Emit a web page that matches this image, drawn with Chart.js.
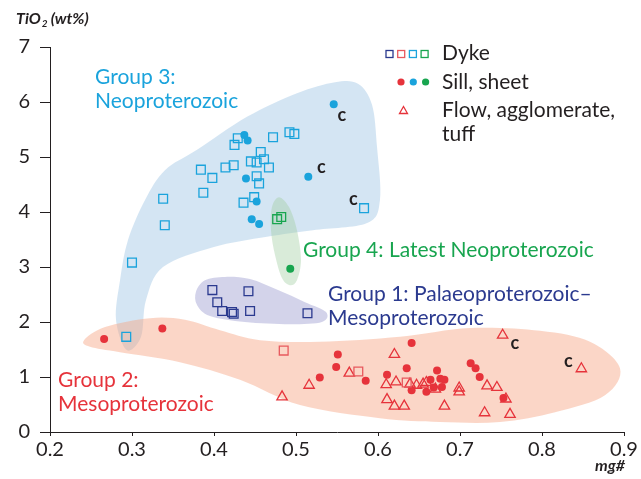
<!DOCTYPE html>
<html>
<head>
<meta charset="utf-8">
<script src="https://cdn.jsdelivr.net/npm/chart.js@4/dist/chart.umd.min.js"></script>
<style>
  html, body { margin: 0; padding: 0; background: #fff; }
</style>
</head>
<body>
<canvas id="tio2Chart" width="641" height="479"></canvas>
<script>
// mg# vs TiO2 (wt%), pairs are [mg#, TiO2]
const group1Dyke = [[0.398, 2.58], [0.442, 2.56], [0.404, 2.36], [0.410, 2.20], [0.422, 2.18], [0.424, 2.15], [0.444, 2.20], [0.514, 2.16]];

const group2Dyke = [[0.485, 1.48], [0.576, 1.10], [0.635, 0.90]];
const group2Sill = [[0.266, 1.69], [0.337, 1.88], [0.551, 1.41], [0.549, 1.18], [0.529, 0.99], [0.585, 0.93],
  [0.641, 1.62], [0.611, 1.04], [0.635, 1.16], [0.672, 1.12], [0.713, 1.25], [0.719, 1.16], [0.724, 1.00],
  [0.641, 0.76], [0.659, 0.73], [0.664, 0.95], [0.676, 0.97], [0.681, 0.95], [0.678, 0.82], [0.668, 0.81], [0.753, 0.62]];
const group2Flow = [[0.565, 1.07], [0.516, 0.85], [0.483, 0.64], [0.752, 1.76], [0.848, 1.15], [0.620, 1.41],
  [0.610, 0.86], [0.622, 0.91], [0.639, 0.87], [0.647, 0.85], [0.655, 0.87], [0.670, 0.78], [0.659, 0.90],
  [0.699, 0.80], [0.699, 0.73], [0.733, 0.84], [0.745, 0.81], [0.756, 0.60], [0.611, 0.59], [0.620, 0.47],
  [0.632, 0.47], [0.681, 0.47], [0.730, 0.35], [0.761, 0.32]];

const group3Dyke = [[0.429, 5.34], [0.425, 5.22], [0.472, 5.36], [0.492, 5.45], [0.498, 5.42], [0.457, 5.09],
  [0.445, 4.92], [0.452, 4.90], [0.461, 4.96], [0.467, 4.81], [0.424, 4.85], [0.414, 4.81], [0.384, 4.77],
  [0.398, 4.62], [0.452, 4.65], [0.455, 4.52], [0.387, 4.35], [0.338, 4.24], [0.449, 4.27], [0.436, 4.17],
  [0.340, 3.76], [0.583, 4.07], [0.300, 3.08], [0.293, 1.73]];
const group3Sill = [[0.546, 5.96], [0.437, 5.40], [0.441, 5.30], [0.439, 4.61], [0.515, 4.64], [0.452, 4.19], [0.446, 3.87], [0.455, 3.78]];

const group4Dyke = [[0.477, 3.87], [0.482, 3.91]];
const group4Sill = [[0.493, 2.97]];

// samples flagged "c"
const cLabels = [[0.556, 5.76], [0.531, 4.82], [0.570, 4.24], [0.767, 1.62], [0.832, 1.29]];

// outlines of the shaded group fields
const field3 = [[0.2935, 1.49], [0.2805, 2.04], [0.2854, 2.76], [0.2951, 3.49], [0.3159, 4.22], [0.3402, 4.76],
  [0.3793, 5.13], [0.4402, 5.73], [0.5012, 6.16], [0.5476, 6.36], [0.5756, 6.33], [0.5927, 5.95], [0.5988, 5.18],
  [0.6024, 4.22], [0.5866, 3.80], [0.5207, 3.67], [0.4646, 3.55], [0.3988, 3.36], [0.3378, 3.00], [0.3171, 2.40], [0.3110, 1.73]];
const field4 = [[0.4793, 4.27], [0.4915, 4.09], [0.5012, 3.67], [0.5061, 3.13], [0.5012, 2.76], [0.4927, 2.67],
  [0.4829, 2.80], [0.4744, 3.22], [0.4695, 3.67], [0.4707, 4.09]];
const field1 = [[0.3780, 2.55], [0.3890, 2.76], [0.4134, 2.82], [0.4439, 2.78], [0.4780, 2.58], [0.5110, 2.36],
  [0.5366, 2.18], [0.5317, 2.00], [0.4927, 1.96], [0.4378, 2.00], [0.3951, 2.11], [0.3793, 2.31]];
const field2 = [[0.2415, 1.67], [0.2671, 1.91], [0.3220, 2.07], [0.3646, 2.04], [0.4073, 1.85], [0.4561, 1.67],
  [0.5293, 1.64], [0.6268, 1.73], [0.7122, 1.89], [0.7976, 1.84], [0.8585, 1.64], [0.8951, 1.16], [0.8768, 0.67],
  [0.8159, 0.36], [0.7488, 0.18], [0.6756, 0.18], [0.6024, 0.25], [0.5049, 0.49], [0.4317, 0.95], [0.3585, 1.27],
  [0.2854, 1.45], [0.2488, 1.55]];

const xTicks = [0.2, 0.3, 0.4, 0.5, 0.6, 0.7, 0.8, 0.9];
const yTicks = [0, 1, 2, 3, 4, 5, 6, 7];

const BLUE = '#2b3a8f', RED = '#e6333b', RED_LIGHT = '#e8595e', CYAN = '#1aa3dc', GREEN = '#18a54f', INK = '#231f20';
const FONT = "Lato, 'Open Sans', sans-serif";

const toPts = arr => arr.map(p => ({ x: p[0], y: p[1] }));

function pointSet(label, arr, style, color, filled) {
    return {
        label: label,
        data: toPts(arr),
        pointStyle: style,
        pointRadius: style === 'circle' ? 4 : (style === 'rect' ? 6.2 : 6),
        pointBorderWidth: filled ? 0 : 1.3,
        pointBorderColor: color,
        pointBackgroundColor: filled ? color : 'rgba(255,255,255,0)',
        showLine: false
    };
}

const fields = [
    { pts: field3, fill: 'rgba(160, 198, 228, 0.45)' },
    { pts: field2, fill: 'rgba(247, 165, 130, 0.45)' },
    { pts: field1, fill: 'rgba(140, 140, 200, 0.38)' },
    { pts: field4, fill: 'rgba(160, 205, 160, 0.40)' }
];

const groupTexts = [
    { lines: ['Group 3:', 'Neoproterozoic'], at: [0.2549, 6.45], color: CYAN },
    { lines: ['Group 4: Latest Neoproterozoic'], at: [0.5085, 3.31], color: GREEN },
    { lines: ['Group 1: Palaeoproterozoic\u2013', 'Mesoproterozoic'], at: [0.5390, 2.51], color: BLUE },
    { lines: ['Group 2:', 'Mesoproterozoic'], at: [0.2098, 0.945], color: RED }
];

// smooth closed outlines behind the points
const fieldsPlugin = {
    id: 'fields',
    beforeDatasetsDraw(chart) {
        const { ctx, scales: { x, y } } = chart;
        ctx.save();
        fields.forEach(f => {
            const p = f.pts.map(v => [x.getPixelForValue(v[0]), y.getPixelForValue(v[1])]);
            const n = p.length;
            ctx.beginPath();
            ctx.moveTo(p[0][0], p[0][1]);
            for (let i = 0; i < n; i++) {
                const p0 = p[(i - 1 + n) % n], p1 = p[i], p2 = p[(i + 1) % n], p3 = p[(i + 2) % n];
                ctx.bezierCurveTo(
                    p1[0] + (p2[0] - p0[0]) / 6, p1[1] + (p2[1] - p0[1]) / 6,
                    p2[0] - (p3[0] - p1[0]) / 6, p2[1] - (p3[1] - p1[1]) / 6,
                    p2[0], p2[1]);
            }
            ctx.closePath();
            ctx.fillStyle = f.fill;
            ctx.fill();
        });
        ctx.restore();
    }
};

const textPlugin = {
    id: 'texts',
    afterDatasetsDraw(chart) {
        const { ctx, scales: { x, y } } = chart;
        ctx.save();
        ctx.textBaseline = 'middle';
        ctx.textAlign = 'left';
        ctx.font = '21px ' + FONT;
        groupTexts.forEach(t => {
            ctx.fillStyle = t.color;
            const px = x.getPixelForValue(t.at[0]), py = y.getPixelForValue(t.at[1]);
            t.lines.forEach((line, i) => ctx.fillText(line, px, py + i * 24));
        });

        ctx.fillStyle = INK;
        ctx.font = 'bold 18px ' + FONT;
        ctx.textAlign = 'center';
        cLabels.forEach(c => ctx.fillText('c', x.getPixelForValue(c[0]), y.getPixelForValue(c[1])));

        // legend
        ctx.textAlign = 'left';
        ctx.lineWidth = 1.3;
        [BLUE, RED_LIGHT, CYAN, GREEN].forEach((col, i) => {
            ctx.strokeStyle = col;
            ctx.strokeRect(386 + i * 11.7, 50.5, 7, 7);
        });
        [RED, CYAN, GREEN].forEach((col, i) => {
            ctx.fillStyle = col;
            ctx.beginPath();
            ctx.arc(401 + i * 12.3, 82, 3.6, 0, Math.PI * 2);
            ctx.fill();
        });
        ctx.strokeStyle = RED;
        ctx.beginPath();
        ctx.moveTo(403.5, 106.5); ctx.lineTo(407.5, 113.5); ctx.lineTo(399.5, 113.5); ctx.closePath();
        ctx.stroke();

        ctx.fillStyle = INK;
        ctx.font = '21px ' + FONT;
        ctx.fillText('Dyke', 442, 53);
        ctx.fillText('Sill, sheet', 442, 82);
        ctx.fillText('Flow, agglomerate,', 442, 110);
        ctx.fillText('tuff', 442, 134);

        // axis titles
        ctx.font = 'italic bold 16px ' + FONT;
        ctx.fillText('TiO', 16, 19);
        let w = ctx.measureText('TiO').width;
        ctx.font = 'italic bold 10px ' + FONT;
        ctx.fillText('2', 16 + w + 1, 24);
        ctx.font = 'italic bold 16px ' + FONT;
        ctx.fillText('(wt%)', 16 + w + 10, 19);
        ctx.textAlign = 'right';
        ctx.fillText('mg#', 625, 466);
        ctx.restore();
    }
};

new Chart(document.getElementById('tio2Chart'), {
    type: 'scatter',
    data: {
        datasets: [
            pointSet('Group 3 sill', group3Sill, 'circle', CYAN, true),
            pointSet('Group 3 dyke', group3Dyke, 'rect', CYAN, false),
            pointSet('Group 4 dyke', group4Dyke, 'rect', GREEN, false),
            pointSet('Group 4 sill', group4Sill, 'circle', GREEN, true),
            pointSet('Group 1 dyke', group1Dyke, 'rect', BLUE, false),
            pointSet('Group 2 dyke', group2Dyke, 'rect', RED_LIGHT, false),
            pointSet('Group 2 flow', group2Flow, 'triangle', RED, false),
            pointSet('Group 2 sill', group2Sill, 'circle', RED, true)
        ]
    },
    options: {
        responsive: false,
        animation: false,
        layout: { padding: { left: 0, right: 17, top: 47, bottom: 0 } },
        plugins: {
            legend: { display: false },
            tooltip: { enabled: false }
        },
        scales: {
            x: {
                type: 'linear',
                min: 0.2,
                max: 0.9,
                afterFit: s => { s.height = 47; },
                afterBuildTicks: s => { s.ticks = xTicks.map(v => ({ value: v })); },
                ticks: {
                    color: INK,
                    padding: 2,
                    font: { family: FONT, size: 20 },
                    callback: v => v.toFixed(1)
                },
                grid: { drawOnChartArea: false, drawTicks: true, tickLength: 4, color: INK },
                border: { display: true, color: INK, width: 1 }
            },
            y: {
                type: 'linear',
                min: 0,
                max: 7,
                afterFit: s => { s.width = 50; },
                afterBuildTicks: s => { s.ticks = yTicks.map(v => ({ value: v })); },
                ticks: {
                    color: INK,
                    padding: 10,
                    font: { family: FONT, size: 20 }
                },
                grid: { drawOnChartArea: false, drawTicks: true, tickLength: 10, color: INK },
                border: { display: true, color: INK, width: 1 }
            }
        }
    },
    plugins: [fieldsPlugin, textPlugin]
});
</script>
</body>
</html>
